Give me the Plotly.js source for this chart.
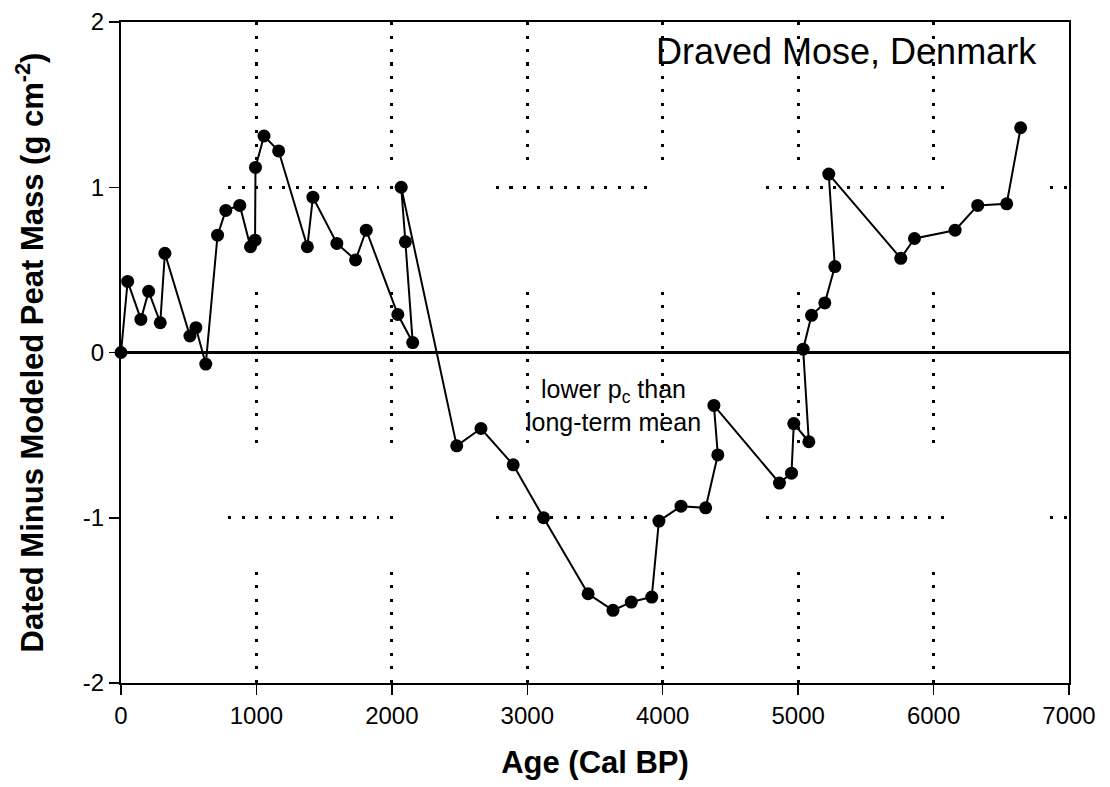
<!DOCTYPE html>
<html>
<head>
<meta charset="utf-8">
<script src="https://cdn.plot.ly/plotly-3.0.1.min.js"></script>
<style>
  html, body { margin: 0; padding: 0; background: #fff; }
  #chart { width: 1110px; height: 787px; }
</style>
</head>
<body>
<div id="chart"></div>
<script>
// Age (cal BP), in the order the points are joined in the original figure
const ageCalBP = [
  0, 49, 147, 204, 290, 324, 509, 553, 626, 713,
  774, 877, 956, 990, 993, 1056, 1164, 1376, 1417, 1594,
  1732, 1811, 2044, 2154, 2100, 2069, 2479, 2658, 2896, 3120,
  3449, 3633, 3768, 3919, 3972, 4135, 4317, 4407, 4378, 4862,
  4951, 4968, 5079, 5037, 5099, 5197, 5271, 5226, 5758, 5859,
  6159, 6326, 6540, 6643
];
// Dated minus modeled peat mass (g cm^-2)
const massDiff = [
  0.00, 0.43, 0.20, 0.37, 0.18, 0.60, 0.10, 0.15, -0.07, 0.71,
  0.86, 0.89, 0.64, 0.68, 1.12, 1.31, 1.22, 0.64, 0.94, 0.66,
  0.56, 0.74, 0.23, 0.06, 0.67, 1.00, -0.565, -0.46, -0.68, -1.00,
  -1.46, -1.56, -1.51, -1.48, -1.02, -0.93, -0.94, -0.62, -0.32, -0.79,
  -0.73, -0.43, -0.54, 0.02, 0.225, 0.30, 0.52, 1.08, 0.57, 0.69,
  0.74, 0.89, 0.90, 1.36
];

const xTickVals = [0, 1000, 2000, 3000, 4000, 5000, 6000, 7000];
const yTickVals = [-2, -1, 0, 1, 2];

const siteLabel = 'Draved Mose, Denmark';
const noteLabel = 'lower p<sub>c</sub> than<br>long-term mean';
const xTitle = 'Age (Cal BP)';
const yTitle = 'Dated Minus Modeled Peat Mass (g cm<sup>-2</sup>)';

// dotted, broken grid pattern of the scanned original
function dots(n) {
  const a = [];
  for (let i = 0; i < n; i++) { a.push(3); if (i < n - 1) a.push(10.5); }
  return a;
}
const vGridDash = [].concat(dots(11), [132], dots(12), [128.5], dots(9), [200])
  .map(v => v + 'px').join(',');
const hGridDash = [].concat([0, 107], dots(13), [103], dots(12), [118.5], dots(14), [105.5], dots(2), [200])
  .map(v => v + 'px').join(',');

const FONT = 'Liberation Sans, Arial, Helvetica, sans-serif';

const trace = {
  type: 'scatter',
  mode: 'lines+markers',
  x: ageCalBP,
  y: massDiff,
  line: { color: '#000', width: 2 },
  marker: { color: '#000', size: 13 },
  cliponaxis: false,
  hoverinfo: 'x+y'
};

const layout = {
  width: 1110,
  height: 787,
  autosize: false,
  margin: { l: 121, r: 41, t: 22, b: 104, pad: 0 },
  paper_bgcolor: '#fff',
  plot_bgcolor: '#fff',
  showlegend: false,
  font: { family: FONT, color: '#000', size: 24 },
  xaxis: {
    range: [0, 7000],
    tickvals: xTickVals,
    ticktext: xTickVals.map(String),
    ticks: 'outside',
    ticklen: 10,
    tickwidth: 1.5,
    tickcolor: '#000',
    showline: true,
    linecolor: '#000',
    linewidth: 2,
    mirror: true,
    showgrid: true,
    gridcolor: '#000',
    gridwidth: 3,
    griddash: vGridDash,
    zeroline: false,
    tickfont: { family: FONT, size: 24, color: '#000' },
    title: { text: xTitle, font: { family: FONT, size: 31, weight: 'bold', color: '#000' }, standoff: 24 }
  },
  yaxis: {
    range: [-2, 2],
    tickvals: yTickVals,
    ticktext: yTickVals.map(String),
    ticks: 'outside',
    ticklen: 10,
    tickwidth: 1.5,
    tickcolor: '#000',
    showline: true,
    linecolor: '#000',
    linewidth: 2,
    mirror: true,
    showgrid: true,
    gridcolor: '#000',
    gridwidth: 3,
    griddash: hGridDash,
    zeroline: true,
    zerolinecolor: '#000',
    zerolinewidth: 2.5,
    tickfont: { family: FONT, size: 24, color: '#000' },
    title: { text: yTitle, font: { family: FONT, size: 31, weight: 'bold', color: '#000' }, standoff: 30 }
  },
  annotations: [
    {
      text: siteLabel,
      xref: 'paper', yref: 'paper',
      x: 0.765, y: 0.955,
      xanchor: 'center', yanchor: 'middle',
      showarrow: false,
      font: { family: FONT, size: 36, color: '#000' }
    },
    {
      text: noteLabel,
      xref: 'x', yref: 'y',
      x: 3633, y: -0.32,
      xanchor: 'center', yanchor: 'middle',
      align: 'center',
      showarrow: false,
      font: { family: FONT, size: 25, color: '#000' }
    }
  ]
};

Plotly.newPlot('chart', [trace], layout, { staticPlot: true, displayModeBar: false });
</script>
</body>
</html>
